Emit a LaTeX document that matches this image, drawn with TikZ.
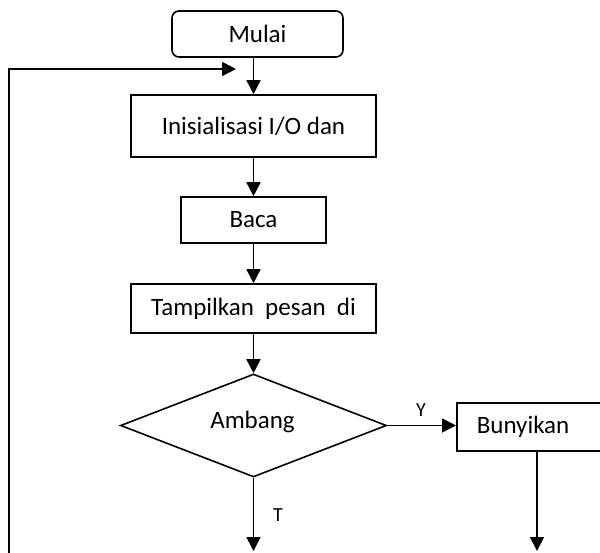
\documentclass[tikz,border=0pt]{standalone}
\usepackage{fontspec}
\setmainfont{Carlito}
\usetikzlibrary{arrows.meta,shapes.geometric}
\begin{document}
\begin{tikzpicture}[x=1pt,y=-1pt,
  box/.style={draw,line width=1.6pt,rectangle,inner sep=0pt,font=\fontsize{25}{30}\selectfont},
  arr/.style={line width=1.6pt,-{Triangle[length=14pt,width=14pt]}},
  lbl/.style={font=\fontsize{20}{24}\selectfont,inner sep=0pt}]
\useasboundingbox (0,0) rectangle (600,552);
\node[box,rounded corners=7pt,minimum width=171pt,minimum height=46pt] (mulai) at (257.5,34) {Mulai};
\node[box,minimum width=245pt,minimum height=62pt] (init) at (253.5,126) {Inisialisasi I/O dan};
\node[box,minimum width=145pt,minimum height=46pt] (baca) at (253.5,220) {Baca};
\node[box,minimum width=245pt,minimum height=49pt] (tamp) at (253.5,308.5) {Tampilkan\ \ pesan\ \ di};
\node[box,shape=diamond,minimum width=266pt,minimum height=103pt] (amb) at (253.5,425.5) {};
\node[font=\fontsize{25}{30}\selectfont] (ambt) at (252.5,422) {Ambang};
\node[box,anchor=west,text width=106pt,align=left,inner xsep=20pt,minimum height=48pt] (bunyi) at (456,427) {Bunyikan};
\coordinate (fbB) at (9,553);
\coordinate (fbC) at (9,69);
\coordinate (fbT) at (236,69);
\coordinate (endT) at (253.5,551);
\coordinate (endB) at (537,551);
\draw[arr] (init.north |- mulai.south) -- (init.north);
\draw[arr] (fbB) -- (fbC) -- (fbT);
\draw[arr] (init.south) -- (baca.north);
\draw[arr] (baca.south) -- (tamp.north);
\draw[arr] (tamp.south) -- (amb.north);
\draw[arr] (amb.east) -- (amb.east -| bunyi.west);
\draw[arr] (amb.south) -- (endT);
\draw[arr] (endB |- bunyi.south) -- (endB);
\node[lbl] (ly) at (421,410.5) {Y};
\node[lbl] (lt) at (278,515.5) {T};
\end{tikzpicture}
\end{document}
